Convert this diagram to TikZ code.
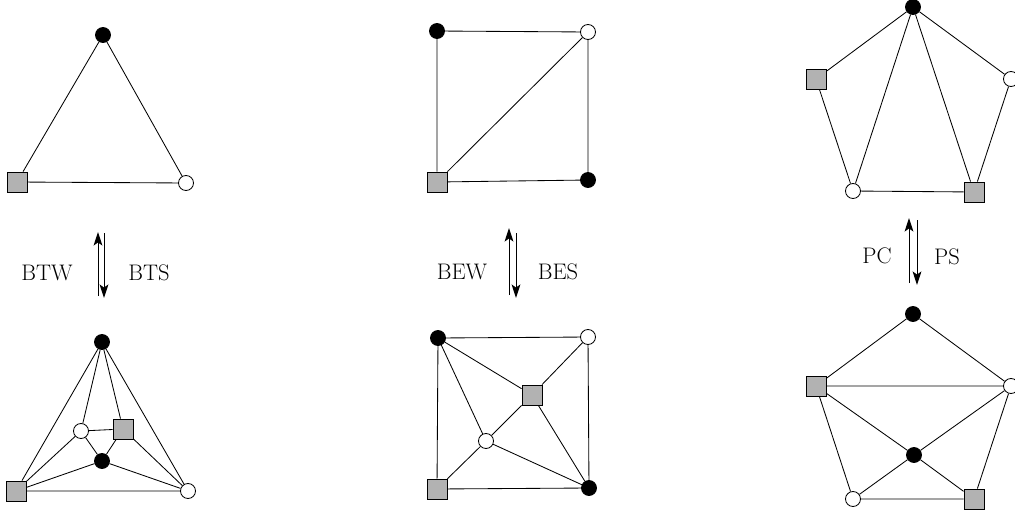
\documentclass[tikz,border=0pt]{standalone}
\usetikzlibrary{arrows.meta}
\begin{document}
\begin{tikzpicture}[x=0.025cm,y=-0.025cm,line width=0.6pt,
  blk/.style={circle,draw,fill=black,inner sep=0pt,minimum size=3.75mm},
  wht/.style={circle,draw,fill=white,inner sep=0pt,minimum size=3.75mm},
  sqr/.style={rectangle,draw,fill=black!30,inner sep=0pt,minimum size=5mm},
  lbl/.style={font=\fontsize{16}{19}\selectfont},
  mv/.style={line width=0.7pt,-{Stealth[length=3.4mm,width=2.2mm,inset=0.8mm]}}]
  \useasboundingbox (0,0) rectangle (1015,514);
  % triangle
  \node[blk] (a1) at (103,35) {};
  \node[sqr] (a2) at (17,182) {};
  \node[wht] (a3) at (186,183) {};
  \draw (a1) -- (a2) -- (a3) -- (a1);
  \node[blk] (b1) at (102,342) {};
  \node[sqr] (b2) at (16,491) {};
  \node[wht] (b3) at (188,491) {};
  \node[wht] (b4) at (81,431) {};
  \node[sqr] (b5) at (123,429) {};
  \node[blk] (b6) at (102,461) {};
  \draw (b1) -- (b2) (b1) -- (b4) (b1) -- (b5) (b1) -- (b3)
        (b4) -- (b5) (b4) -- (b6) (b5) -- (b6)
        (b2) -- (b4) (b2) -- (b6) (b2) -- (b3)
        (b3) -- (b6) (b3) -- (b5);
  % square
  \node[blk] (c1) at (437,31) {};
  \node[wht] (c2) at (588,32) {};
  \node[sqr] (c3) at (437,182) {};
  \node[blk] (c4) at (588,180) {};
  \draw (c1) -- (c2) -- (c4) -- (c3) -- (c1) (c3) -- (c2);
  \node[blk] (d1) at (438,338) {};
  \node[wht] (d2) at (588,337) {};
  \node[blk] (d3) at (589,488) {};
  \node[sqr] (d4) at (437,489) {};
  \node[sqr] (d5) at (532,395) {};
  \node[wht] (d6) at (486,441) {};
  \draw (d1) -- (d2) -- (d3) -- (d4) -- (d1)
        (d1) -- (d5) (d1) -- (d6) (d2) -- (d5) (d5) -- (d6)
        (d5) -- (d3) (d6) -- (d4) (d6) -- (d3);
  % pentagon
  \node[blk] (e1) at (913,7) {};
  \node[sqr] (e2) at (816,79) {};
  \node[wht] (e3) at (1011,79) {};
  \node[wht] (e4) at (853,191) {};
  \node[sqr] (e5) at (974,192) {};
  \draw (e1) -- (e2) -- (e4) -- (e5) -- (e3) -- (e1)
        (e1) -- (e4) (e1) -- (e5);
  \node[blk] (f1) at (913,314) {};
  \node[sqr] (f2) at (816,386) {};
  \node[wht] (f3) at (1011,386) {};
  \node[wht] (f4) at (853,499) {};
  \node[sqr] (f5) at (974,499) {};
  \node[blk] (f6) at (914,455) {};
  \draw (f1) -- (f2) -- (f4) -- (f5) -- (f3) -- (f1)
        (f2) -- (f3) (f2) -- (f6) (f6) -- (f3) (f6) -- (f4) (f6) -- (f5);
  % moves
  \node[lbl] (btw) at (47,273) {BTW};
  \node[lbl] (bts) at (149,273) {BTS};
  \node[lbl] (bew) at (462,272) {BEW};
  \node[lbl] (bes) at (558,272) {BES};
  \node[lbl] (pc) at (877,256) {PC};
  \node[lbl] (ps) at (947,257) {PS};
  \coordinate (m1a) at (98,296);  \coordinate (m1b) at (98,232);
  \coordinate (m2a) at (104,233); \coordinate (m2b) at (104,298);
  \coordinate (m3a) at (509,295); \coordinate (m3b) at (509,228);
  \coordinate (m4a) at (516,233); \coordinate (m4b) at (516,298);
  \coordinate (m5a) at (909,283); \coordinate (m5b) at (909,218);
  \coordinate (m6a) at (917,220); \coordinate (m6b) at (917,285);
  \draw[mv] (m1a) -- (m1b);
  \draw[mv] (m2a) -- (m2b);
  \draw[mv] (m3a) -- (m3b);
  \draw[mv] (m4a) -- (m4b);
  \draw[mv] (m5a) -- (m5b);
  \draw[mv] (m6a) -- (m6b);
\end{tikzpicture}
\end{document}
